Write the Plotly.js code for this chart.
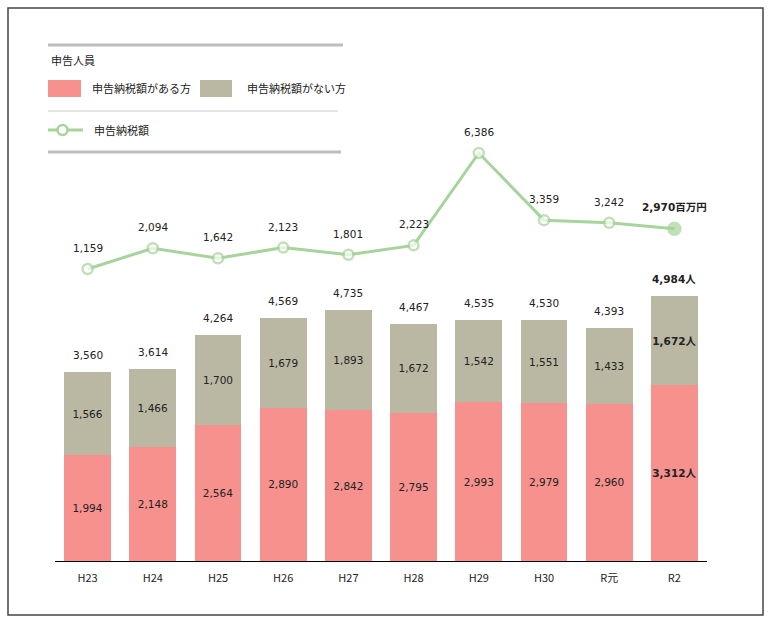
<!DOCTYPE html>
<html>
<head>
<meta charset="utf-8">
<script src="https://cdn.plot.ly/plotly-3.0.1.min.js"></script>
<style>html,body{margin:0;padding:0;background:#fff;}#chart{width:775px;height:628px;}</style>
</head>
<body>
<div id="chart"></div>
<script>
// ---- data ----
const years = ["H23","H24","H25","H26","H27","H28","H29","H30","R元","R2"];
const withTax = [1994,2148,2564,2890,2842,2795,2993,2979,2960,3312];
const withoutTax = [1566,1466,1700,1679,1893,1672,1542,1551,1433,1672];
const totals = [3560,3614,4264,4569,4735,4467,4535,4530,4393,4984];
const taxAmount = [1159,2094,1642,2123,1801,2223,6386,3359,3242,2970];
const legendTitle = "申告人員";
const nameWith = "申告納税額がある方";
const nameWithout = "申告納税額がない方";
const nameLine = "申告納税額";
const unitPeople = "人";
const unitYen = "百万円";

// ---- style ----
const W = 775, H = 628;
const M = {l:55, r:68, t:40, b:67};
const PW = W - M.l - M.r, PH = H - M.t - M.b;
const px = x => (x - M.l) / PW;
const py = y => (H - M.b - y) / PH;
const PINK = "#F6918E", BEIGE = "#BAB8A2", GREEN = "#A6D49A";
const FONT = "DejaVu Sans, Noto Sans CJK JP, sans-serif";
const JFONT = "Noto Sans CJK JP, DejaVu Sans, sans-serif";
const fmt = v => v.toLocaleString("en-US");
const last = years.length - 1;

const txtWith = withTax.map((v,i) => i === last ? "<b>" + fmt(v) + unitPeople + "</b>" : fmt(v));
const txtWithout = withoutTax.map((v,i) => i === last ? "<b>" + fmt(v) + unitPeople + "</b>" : fmt(v));

const traces = [
  {type:"bar", x:years, y:withTax, name:nameWith, marker:{color:PINK},
   text:txtWith, textposition:"inside", insidetextanchor:"middle", textangle:0, constraintext:"none",
   textfont:{family:FONT, size:10.5, color:"#222"}, hoverinfo:"skip", showlegend:false},
  {type:"bar", x:years, y:withoutTax, name:nameWithout, marker:{color:BEIGE},
   text:txtWithout, textposition:"inside", insidetextanchor:"middle", textangle:0, constraintext:"none",
   textfont:{family:FONT, size:10.5, color:"#222"}, hoverinfo:"skip", showlegend:false},
  {type:"scatter", mode:"lines+markers", x:years, y:taxAmount, yaxis:"y2", name:nameLine,
   line:{color:GREEN, width:3},
   marker:{size:taxAmount.map((v,i)=> i===last ? 12 : 10),
           color:taxAmount.map((v,i)=> i===last ? GREEN : "#fff"),
           line:{color:GREEN, width:2.5}},
   cliponaxis:false, hoverinfo:"skip", showlegend:false}
];

const annotations = [];
totals.forEach((v,i) => {
  annotations.push({x:years[i], y:v, xref:"x", yref:"y", yshift:17, yanchor:"middle",
    text: i===last ? "<b>" + fmt(v) + unitPeople + "</b>" : fmt(v),
    showarrow:false, font:{family:FONT, size:10.5, color:"#222"}});
});
taxAmount.forEach((v,i) => {
  annotations.push({x:years[i], y:v, xref:"x", yref:"y2", yshift: i===last ? 22 : 21, yanchor:"middle",
    text: i===last ? "<b>" + fmt(v) + unitYen + "</b>" : fmt(v),
    showarrow:false, font:{family:FONT, size:10.5, color:"#222"}});
});
// legend texts
annotations.push({xref:"paper", yref:"paper", x:px(49), y:py(60), xanchor:"left", yanchor:"middle",
  text:legendTitle, showarrow:false, font:{family:JFONT, size:11, color:"#222"}});
annotations.push({xref:"paper", yref:"paper", x:px(90), y:py(88), xanchor:"left", yanchor:"middle",
  text:nameWith, showarrow:false, font:{family:JFONT, size:11, color:"#222"}});
annotations.push({xref:"paper", yref:"paper", x:px(245), y:py(88), xanchor:"left", yanchor:"middle",
  text:nameWithout, showarrow:false, font:{family:JFONT, size:11, color:"#222"}});
annotations.push({xref:"paper", yref:"paper", x:px(92), y:py(130), xanchor:"left", yanchor:"middle",
  text:nameLine, showarrow:false, font:{family:JFONT, size:11, color:"#222"}});

const shapes = [
  // outer frame
  {type:"rect", xref:"paper", yref:"paper", x0:px(8), x1:px(763), y0:py(8), y1:py(615),
   line:{color:"#444", width:1.5}, fillcolor:"rgba(0,0,0,0)", layer:"below"},
  // legend lines
  {type:"line", xref:"paper", yref:"paper", x0:px(48), x1:px(343), y0:py(45), y1:py(45),
   line:{color:"#bdbdbd", width:3}},
  {type:"line", xref:"paper", yref:"paper", x0:px(48), x1:px(338), y0:py(111), y1:py(111),
   line:{color:"#dcdcdc", width:1.5}},
  {type:"line", xref:"paper", yref:"paper", x0:px(48), x1:px(341), y0:py(152), y1:py(152),
   line:{color:"#bdbdbd", width:3}},
  // legend swatches
  {type:"rect", xref:"paper", yref:"paper", x0:px(48), x1:px(81), y0:py(80), y1:py(97),
   line:{width:0}, fillcolor:PINK},
  {type:"rect", xref:"paper", yref:"paper", x0:px(200), x1:px(232), y0:py(80), y1:py(97),
   line:{width:0}, fillcolor:BEIGE},
  {type:"line", xref:"paper", yref:"paper", x0:px(48), x1:px(83), y0:py(130), y1:py(130),
   line:{color:GREEN, width:3}},
  {type:"circle", xref:"paper", yref:"paper", x0:px(57.5), x1:px(67.5), y0:py(125), y1:py(135),
   line:{color:GREEN, width:2.5}, fillcolor:"#fff"}
];

const layout = {
  width:W, height:H, margin:M, barmode:"stack", bargap:0.28,
  paper_bgcolor:"#fff", plot_bgcolor:"#fff", showlegend:false,
  font:{family:FONT, size:11, color:"#222"},
  xaxis:{type:"category", range:[-0.5, 9.5], showline:true, linecolor:"#000", linewidth:1.2,
    ticks:"", ticklabelstandoff:7, showgrid:false, zeroline:false,
    tickfont:{family:JFONT, size:11, color:"#222"}, fixedrange:true},
  yaxis:{range:[0, 9812], visible:false, showgrid:false, zeroline:false, fixedrange:true},
  yaxis2:{overlaying:"y", range:[-12001, 11478], visible:false, showgrid:false, zeroline:false, fixedrange:true},
  annotations:annotations, shapes:shapes
};

Plotly.newPlot("chart", traces, layout, {staticPlot:true, displayModeBar:false});
</script>
</body>
</html>
